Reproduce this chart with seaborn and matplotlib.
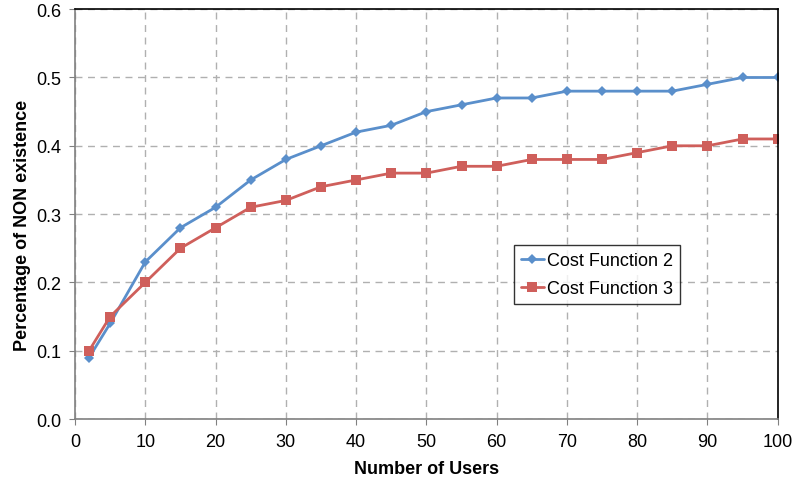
import matplotlib
matplotlib.use("Agg")
import matplotlib.pyplot as plt
import seaborn as sns
import pandas as pd

# data
users = [2, 5, 10, 15, 20, 25, 30, 35, 40, 45, 50, 55, 60, 65, 70, 75, 80, 85, 90, 95, 100]
cost_function_2 = [0.09, 0.14, 0.23, 0.28, 0.31, 0.35, 0.38, 0.40, 0.42, 0.43, 0.45,
                   0.46, 0.47, 0.47, 0.48, 0.48, 0.48, 0.48, 0.49, 0.50, 0.50]
cost_function_3 = [0.10, 0.15, 0.20, 0.25, 0.28, 0.31, 0.32, 0.34, 0.35, 0.36, 0.36,
                   0.37, 0.37, 0.38, 0.38, 0.38, 0.39, 0.40, 0.40, 0.41, 0.41]
series_names = ["Cost Function 2", "Cost Function 3"]
y_ticks = [0, 0.1, 0.2, 0.3, 0.4, 0.5, 0.6]

df = pd.DataFrame({
    "users": users * 2,
    "value": cost_function_2 + cost_function_3,
    "series": [series_names[0]] * len(users) + [series_names[1]] * len(users),
})

sns.set_style("white")
plt.rcParams["font.family"] = ["Liberation Sans", "DejaVu Sans"]
plt.rcParams["text.color"] = "black"
plt.rcParams["axes.labelcolor"] = "black"
plt.rcParams["xtick.labelcolor"] = "black"
plt.rcParams["ytick.labelcolor"] = "black"

fig = plt.figure(figsize=(7.94, 4.85), dpi=100)
ax = fig.add_axes([0.0945, 0.134, 0.885, 0.845])

palette = {series_names[0]: "#5A8FCB", series_names[1]: "#CF5F5B"}
markers = {series_names[0]: "D", series_names[1]: "s"}
sizes = {series_names[0]: 5.5, series_names[1]: 7}

for name in series_names:
    sub = df[df["series"] == name]
    sns.lineplot(
        data=sub, x="users", y="value", ax=ax,
        color=palette[name], marker=markers[name],
        markersize=sizes[name], markeredgewidth=0,
        linewidth=2, label=name,
    )

ax.set_xlim(0, 100)
ax.set_ylim(0, 0.6)
ax.set_xticks(range(0, 101, 10))
ax.set_yticks(y_ticks)
ax.set_yticklabels([f"{v:.1f}" for v in y_ticks])

ax.grid(True, color="#B0B0B0", linestyle=(0, (5, 4)), linewidth=1)
ax.set_axisbelow(True)

for side in ["left", "bottom"]:
    ax.spines[side].set_color("#808080")
    ax.spines[side].set_linewidth(1.2)
for side in ["top", "right"]:
    ax.spines[side].set_color("black")
    ax.spines[side].set_linewidth(1.2)

ax.tick_params(axis="both", direction="out", length=4, color="#808080",
               labelsize=13, labelcolor="black", bottom=True, left=True)
ax.tick_params(axis="x", pad=6)
ax.tick_params(axis="y", pad=6)

ax.set_xlabel("Number of Users", fontsize=13, fontweight="bold")
ax.set_ylabel("Percentage of NON existence", fontsize=13, fontweight="bold")
ax.xaxis.set_label_coords(0.5, -0.1)
ax.yaxis.set_label_coords(-0.062, 0.475)

leg = ax.legend(loc="upper left", bbox_to_anchor=(0.624, 0.425), fontsize=13,
                frameon=True, fancybox=False, edgecolor="black",
                handlelength=1.3, handletextpad=0.15, borderpad=0.4,
                labelspacing=0.6, borderaxespad=0)
leg.get_frame().set_linewidth(1)

fig.savefig("out.png", dpi=100)
